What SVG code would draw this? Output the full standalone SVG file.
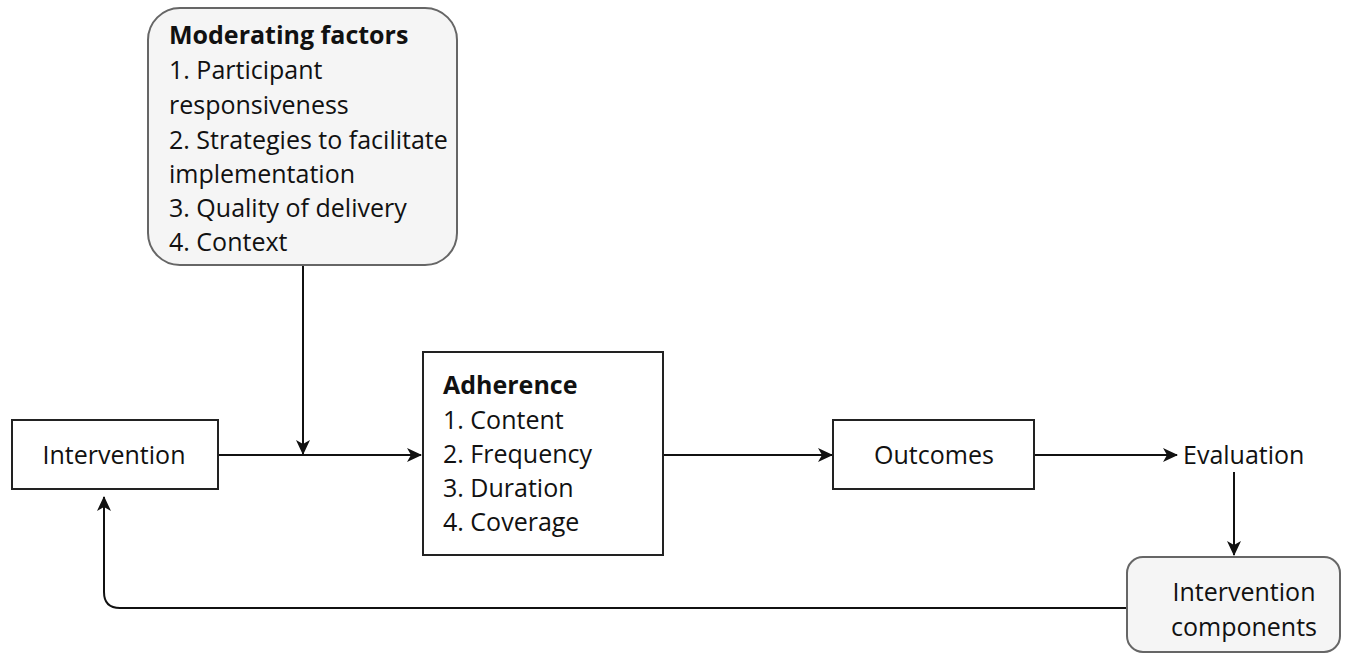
<svg xmlns="http://www.w3.org/2000/svg" width="1356" height="656" viewBox="0 0 1356 656">
<style>
text{font-family:"Open Sans","Liberation Sans",sans-serif;font-size:25px;fill:#111}
.b{font-weight:bold}
.m{text-anchor:middle}
.box{fill:#fff;stroke:#222;stroke-width:2}
.rbox{fill:#f5f5f5;stroke:#666;stroke-width:2}
.c{fill:none;stroke:#111;stroke-width:2}
</style>
<defs>
<marker id="ah" viewBox="0 0 15 14" refX="14" refY="7" markerWidth="15" markerHeight="14" markerUnits="userSpaceOnUse" orient="auto">
<path d="M0,0 L15,7 L0,14 L4,7 Z" fill="#111"/>
</marker>
</defs>
<rect width="1356" height="656" fill="#fff"/>
<g id="connectors">
<path class="c" d="M218,455 H421" marker-end="url(#ah)"/>
<path class="c" d="M303,265 V454" marker-end="url(#ah)"/>
<path class="c" d="M663,455 H832" marker-end="url(#ah)"/>
<path class="c" d="M1034,455 H1177" marker-end="url(#ah)"/>
<path class="c" d="M1234,472 V555" marker-end="url(#ah)"/>
<path class="c" d="M1127,608 H120 Q104,608 104,592 V497" marker-end="url(#ah)"/>
</g>
<g id="moderating">
<rect class="rbox" x="148" y="8" width="309" height="257" rx="32"/>
<text x="169" y="44" class="b">Moderating factors</text>
<text x="169" y="79">1. Participant</text>
<text x="169" y="114">responsiveness</text>
<text x="169" y="149">2. Strategies to facilitate</text>
<text x="169" y="183">implementation</text>
<text x="169" y="217">3. Quality of delivery</text>
<text x="169" y="251">4. Context</text>
</g>
<g id="intervention">
<rect class="box" x="12" y="420" width="206" height="69"/>
<text x="114" y="464" class="m">Intervention</text>
</g>
<g id="adherence">
<rect class="box" x="423" y="352" width="240" height="203"/>
<text x="443" y="394" class="b">Adherence</text>
<text x="443" y="429">1. Content</text>
<text x="443" y="463">2. Frequency</text>
<text x="443" y="497">3. Duration</text>
<text x="443" y="531">4. Coverage</text>
</g>
<g id="outcomes">
<rect class="box" x="833" y="420" width="201" height="69"/>
<text x="934" y="464" class="m">Outcomes</text>
</g>
<g id="evaluation">
<text x="1183" y="464">Evaluation</text>
</g>
<g id="components">
<rect class="rbox" x="1127" y="557" width="213" height="95" rx="16"/>
<text x="1244" y="601" class="m">Intervention</text>
<text x="1244" y="636" class="m">components</text>
</g>
</svg>
